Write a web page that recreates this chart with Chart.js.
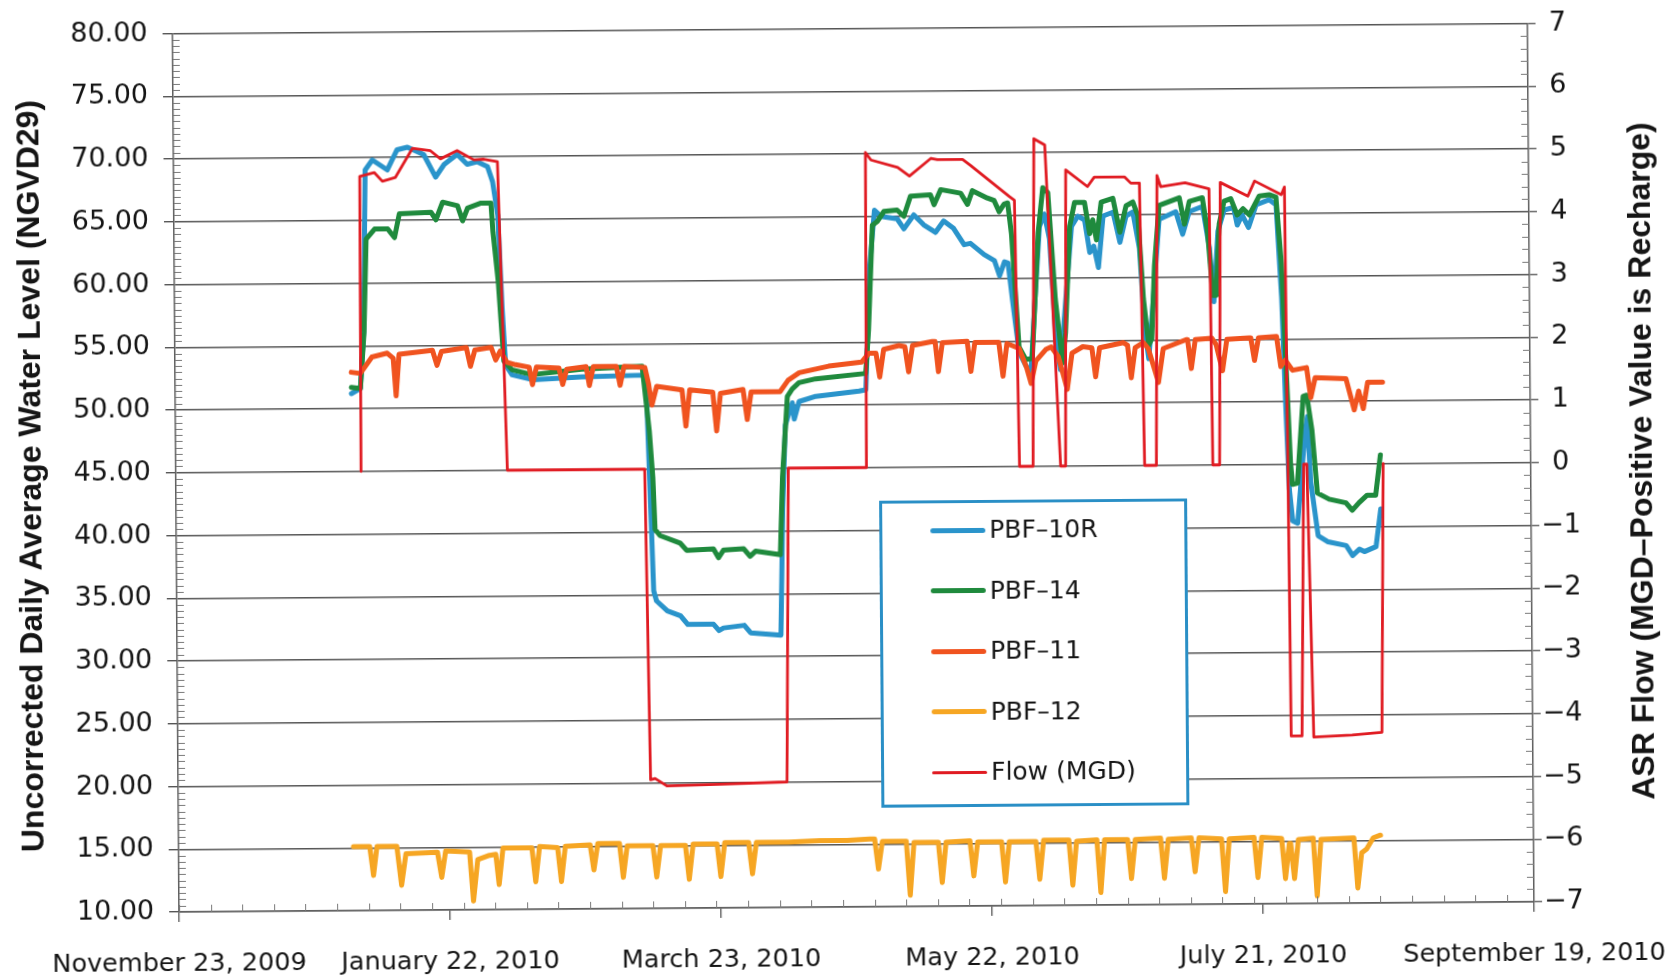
<!DOCTYPE html>
<html lang="en">
<head>
<meta charset="utf-8">
<title>PBF water levels and ASR flow</title>
<script src="https://cdn.jsdelivr.net/npm/chart.js@4.4.1/dist/chart.umd.min.js"></script>
<style>
    html, body { margin: 0; padding: 0; background: #fff; overflow: hidden; }
    #quadro { position: relative; width: 1676px; height: 977px; transform: rotate(-0.43deg); transform-origin: 838px 488px; }
    #grafico { position: absolute; left: 0; top: 0; }
    .titulo-eixo { position: absolute; white-space: nowrap; font-family: 'Liberation Sans', Arial, sans-serif; font-weight: bold; font-size: 32px; line-height: 38px; color: #151515; transform: translate(-50%, -50%) rotate(-90deg); }
    .legenda { position: absolute; left: 879px; top: 501px; width: 308px; height: 307px; box-sizing: border-box; border: 3px solid #2a8fc6; background: #fff; }
    .item-legenda { position: absolute; left: 0; width: 100%; height: 30px; }
    .amostra { position: absolute; left: 48px; width: 55px; border-radius: 3px; }
    .rotulo { position: absolute; left: 107px; top: 0; line-height: 30px; font-family: 'DejaVu Sans', sans-serif; font-size: 25px; color: #151515; white-space: nowrap; }
</style>
</head>
<body>
<div id="quadro">
    <canvas id="grafico" width="1676" height="977"></canvas>
    <div class="titulo-eixo" style="left: 30px; top: 470px;">Uncorrected Daily Average Water Level (NGVD29)</div>
    <div class="titulo-eixo" style="left: 1641px; top: 467px;">ASR Flow (MGD–Positive Value is Recharge)</div>
    <div class="legenda" id="legenda"></div>
</div>
<script>
// dias contados a partir de 23/11/2009
const diasRotulos = [0, 60, 120, 180, 240, 300];
const rotulosDatas = ['November 23, 2009', 'January 22, 2010', 'March 23, 2010', 'May 22, 2010', 'July 21, 2010', 'September 19, 2010'];

const nomesSeries = ['PBF–10R', 'PBF–14', 'PBF–11', 'PBF–12', 'Flow (MGD)'];
const coresSeries = ['#2a94cb', '#1f8a3d', '#f0531f', '#f6a623', '#e01b22'];

const pbf10r = [
    [39, 51.2], [41, 51.6], [41.8, 56.0], [42.4, 69.0], [44, 69.8], [47.3, 69.0], [49.5, 70.6], [51.8, 70.8],
    [55.4, 70.2], [58, 68.4], [59.9, 69.4], [62.8, 70.2], [65, 69.4], [67.2, 69.6], [69.5, 69.2], [70.6, 68.0],
    [71.7, 65.3], [72.5, 58.0], [73.2, 53.4], [74.6, 52.6], [79.1, 52.2], [90, 52.4], [104.2, 52.5], [104.9, 44.0],
    [105.6, 35.3], [106.2, 34.5], [108.6, 33.7], [111.5, 33.3], [113.1, 32.6], [118.8, 32.6], [120, 32.1], [121, 32.3],
    [125.6, 32.5], [127, 31.9], [133.7, 31.7], [134.3, 41.7], [135, 48.4], [136.6, 50.2], [137, 48.9], [138.1, 50.3],
    [141.8, 50.7], [151.4, 51.1], [152.9, 51.2], [154, 61.2], [155.1, 65.5], [156.6, 65.0], [160.1, 64.8], [161.6, 64.0],
    [163.8, 65.1], [166, 64.3], [168.6, 63.7], [170.4, 64.6], [172.6, 64.0], [174.9, 62.7], [176.3, 62.8], [179.3, 61.9],
    [181.6, 61.4], [182.7, 60.2], [183.8, 61.3], [184.6, 61.2], [185.5, 58.3], [186.9, 54.1], [188.4, 53.0], [189.5, 52.5],
    [190.5, 58.3], [191.6, 64.1], [192.7, 65.1], [193.8, 63.1], [195, 55.6], [196, 52.7], [197.2, 57.8], [198.7, 64.1],
    [200.1, 64.9], [201.6, 64.6], [202.7, 62.0], [203.6, 62.5], [204.6, 60.8], [205.7, 64.9], [207.9, 65.2], [209.4, 62.8],
    [210.8, 64.9], [212.3, 65.2], [213.7, 62.3], [214.8, 55.6], [215.6, 53.5], [216.7, 58.3], [218.1, 64.6], [221.8, 65.2],
    [223.3, 63.4], [224.8, 65.2], [227.7, 65.6], [229.2, 62.3], [230.1, 58.0], [231.1, 63.6], [232.5, 65.3], [234.6, 65.5],
    [235.4, 64.1], [236.5, 64.9], [237.9, 63.9], [239.6, 65.7], [242.5, 66.1], [244, 65.7], [245.1, 58.3], [245.8, 50.0],
    [246.5, 43.0], [247.2, 40.5], [248.3, 40.3], [250.1, 47.7], [250.6, 48.8], [251.2, 43.7], [252.8, 39.3], [255, 38.8],
    [259, 38.5], [260.4, 37.7], [261.9, 38.2], [263, 38.0], [265.6, 38.4], [266.7, 41.4]
];

const pbf14 = [
    [39, 51.7], [41, 51.6], [41.9, 56.1], [42.5, 63.5], [44.4, 64.3], [47.3, 64.3], [48.8, 63.6], [49.9, 65.5],
    [56.9, 65.6], [58, 65.0], [59.5, 66.4], [62.8, 66.1], [63.9, 64.9], [65, 65.9], [68, 66.3], [70.2, 66.3],
    [70.6, 64.0], [71.7, 60.0], [72.8, 53.7], [74.6, 53.0], [79, 52.6], [90, 53.0], [103.4, 53.2], [104.9, 48.0],
    [105.6, 44.3], [106, 40.2], [107.1, 39.7], [111.5, 39.1], [113, 38.5], [118.9, 38.6], [120, 37.9], [121.1, 38.5],
    [125.6, 38.6], [127, 38.0], [128.2, 38.4], [133.7, 38.1], [134.3, 44.3], [135.5, 50.7], [136.6, 51.3], [138.1, 51.8],
    [141.8, 52.1], [152.9, 52.5], [153.6, 56.0], [154.6, 64.3], [155.7, 64.6], [157.2, 65.4], [160.1, 65.5], [161.6, 65.0],
    [163.1, 66.6], [167.5, 66.7], [168.3, 65.9], [169.8, 67.1], [174.2, 66.8], [175.7, 65.9], [176.8, 67.0], [180.1, 66.4],
    [181.6, 66.2], [182.7, 65.3], [183.8, 65.9], [184.6, 66.0], [185.4, 63.5], [186.9, 54.5], [188.4, 53.5], [189.8, 53.6],
    [191.3, 63.6], [192.4, 67.2], [193.5, 66.8], [195, 58.3], [196.5, 53.2], [197.2, 55.6], [198.3, 64.1], [199.4, 66.0],
    [201.6, 66.0], [202.7, 63.5], [203.4, 64.6], [204.2, 63.0], [205.3, 66.0], [207.9, 66.3], [209.4, 63.6], [210.8, 65.7],
    [212.3, 66.0], [213.4, 64.9], [214.5, 58.3], [215.6, 54.6], [216.3, 55.1], [217, 60.9], [218.1, 65.7], [222.6, 66.3],
    [223.7, 64.2], [224.8, 66.0], [227.7, 66.3], [228.8, 63.6], [229.9, 58.5], [230.6, 58.5], [231.4, 64.2], [232.5, 66.0],
    [234, 66.2], [235.4, 64.9], [236.7, 65.4], [238.1, 64.9], [240.3, 66.4], [242.5, 66.5], [244, 66.3], [245.1, 61.0],
    [245.8, 54.5], [246.8, 45.1], [247.2, 43.4], [248.3, 43.5], [249.7, 50.4], [250.5, 50.5], [251.6, 47.7], [252.7, 42.7],
    [255.3, 42.2], [259, 41.9], [260.4, 41.3], [261.9, 41.9], [263.7, 42.5], [265.6, 42.5], [266.7, 45.7]
];

const pbf11 = [
    [39, 52.9], [41, 52.8], [43.6, 54.1], [47, 54.4], [48.3, 54.0], [48.9, 51.0], [49.6, 54.3], [57, 54.6],
    [58, 53.4], [59, 54.5], [64.5, 54.8], [65.4, 53.3], [66.4, 54.6], [70, 54.8], [71, 53.8], [72, 54.5],
    [73.5, 53.6], [75.4, 53.4], [78.4, 53.2], [79.1, 51.8], [80, 53.2], [85, 53.1], [85.8, 51.8], [86.7, 53.0],
    [91, 53.2], [91.7, 51.7], [92.6, 53.2], [97.7, 53.2], [98.5, 51.7], [99.4, 53.2], [104, 53.1], [104.8, 51.8],
    [105.5, 50.1], [106.6, 51.6], [112.2, 51.3], [113, 48.4], [113.9, 51.3], [119, 51.1], [119.8, 48.0], [120.7, 51.0],
    [125.7, 51.3], [126.6, 48.9], [127.5, 51.1], [133.9, 51.1], [135.7, 52.0], [138.2, 52.6], [144.7, 53.1], [152, 53.4],
    [153.6, 54.1], [155.2, 54.1], [156, 52.2], [156.9, 54.4], [160.3, 54.7], [161.6, 54.6], [162.4, 52.6], [163.3, 54.7],
    [167.7, 55.0], [168.3, 55.0], [169, 52.6], [169.9, 54.9], [175.4, 55.0], [176.2, 52.6], [177.1, 54.9], [182.4, 54.9],
    [183.3, 52.2], [184.2, 54.8], [186.9, 54.4], [188.5, 52.9], [189.5, 51.6], [190.6, 53.4], [192.8, 54.3], [194, 54.5],
    [195.6, 53.7], [197.5, 51.1], [198.6, 54.0], [201, 54.5], [203, 54.4], [203.8, 52.1], [204.7, 54.4], [210, 54.8],
    [210.9, 54.6], [211.7, 52.0], [212.6, 54.4], [214.4, 54.8], [215.5, 54.3], [217.7, 51.6], [218.8, 54.3], [223.9, 55.0],
    [224.2, 55.0], [225, 52.7], [225.9, 55.0], [229.6, 55.1], [230.5, 54.6], [231.9, 52.5], [232.9, 55.0], [237.8, 55.1],
    [238.2, 55.1], [239, 53.3], [239.9, 55.1], [243.9, 55.2], [244.8, 52.8], [245.8, 53.3], [247.4, 52.5], [250.5, 52.7],
    [251.4, 50.3], [252.4, 51.9], [259.2, 51.8], [261, 49.3], [262, 50.8], [263, 49.4], [264, 51.5], [267.3, 51.5]
];

const pbf12 = [
    [38.7, 15.1], [42.3, 15.1], [43.1, 12.8], [43.9, 15.1], [48.3, 15.1], [49.3, 12.0], [50.3, 14.5], [57.3, 14.6],
    [58.2, 12.6], [59.1, 14.7], [64.4, 14.6], [65.2, 10.7], [66.2, 14.0], [68.5, 14.3], [70.2, 14.4], [70.9, 12.0],
    [71.8, 14.9], [78.2, 14.9], [79, 12.2], [79.9, 15.0], [83.9, 14.9], [84.7, 12.2], [85.6, 15.0], [91.1, 15.1],
    [91.9, 13.1], [92.8, 15.2], [97.6, 15.2], [98.4, 12.5], [99.3, 15.0], [105, 15.0], [105.8, 12.5], [106.7, 15.0],
    [112.2, 15.0], [113, 12.3], [113.9, 15.1], [119.2, 15.1], [120, 12.5], [120.9, 15.2], [126.2, 15.2], [127, 12.7],
    [127.9, 15.2], [135, 15.2], [142, 15.3], [148, 15.3], [153, 15.4], [154.1, 15.4], [154.9, 13.0], [155.8, 15.2],
    [161.1, 15.2], [161.9, 10.9], [162.8, 15.1], [168.2, 15.1], [169, 11.9], [169.9, 15.1], [175.2, 15.2], [176, 12.4],
    [176.9, 15.1], [182.2, 15.1], [183, 11.9], [183.9, 15.1], [189.8, 15.1], [190.6, 12.1], [191.5, 15.2], [197.1, 15.2],
    [197.9, 11.6], [198.8, 15.1], [203.3, 15.2], [204.1, 11.0], [205, 15.2], [210.1, 15.2], [210.9, 12.1], [211.8, 15.2],
    [217.4, 15.3], [218.2, 12.1], [219.1, 15.2], [224.2, 15.3], [225, 12.6], [225.9, 15.3], [230.9, 15.2], [231.7, 11.0],
    [232.6, 15.2], [238.1, 15.3], [238.9, 12.1], [239.8, 15.3], [244.2, 15.2], [245, 12.0], [245.9, 14.8], [246.2, 14.8],
    [247, 12.0], [247.9, 15.1], [251.2, 15.2], [252, 10.6], [252.9, 15.1], [260.2, 15.2], [261, 11.2], [261.9, 14.0],
    [263, 14.3], [264.5, 15.2], [266.1, 15.4]
];

// vazão em MGD, eixo da direita
const vazao = [
    [41, 0], [41.2, 4.7], [44.4, 4.76], [46.2, 4.62], [49.1, 4.68], [52.9, 5.14], [56.9, 5.10], [59.1, 4.97],
    [62.8, 5.10], [66.5, 4.95], [68.7, 4.96], [71.7, 4.92], [73.4, 0], [103.8, 0], [104.6, -4.95], [105.6, -4.93],
    [108.2, -5.05], [120, -5.03], [134.8, -5.0], [135.6, 0], [152.9, 0], [153.2, 5.02], [154.4, 4.9], [160.3, 4.78],
    [162.9, 4.64], [167.7, 4.92], [169.1, 4.9], [174.7, 4.9], [176.5, 4.8], [185, 4.3], [186.1, 4.24], [186.8, 0],
    [189.8, 0], [190.5, 5.22], [192.9, 5.12], [195.9, 0], [197, 0], [197.5, 4.72], [202.3, 4.45], [203.8, 4.6],
    [210.5, 4.6], [211.9, 4.5], [213.8, 4.5], [214.5, 0], [217.1, 0], [217.7, 4.62], [218.5, 4.44], [223.9, 4.5],
    [229.2, 4.4], [229.6, 0], [231.1, 0], [231.7, 4.5], [237.8, 4.28], [239.3, 4.52], [245.2, 4.3], [245.9, 4.42],
    [246.5, -4.33], [248.9, -4.33], [249.7, 0], [250.4, 0], [251.5, -4.35], [260, -4.32], [266.6, -4.28], [267.3, 0]
];

function criarSerie(indice, pontos, espessura, eixo, ordem) {
    return {
        label: nomesSeries[indice],
        data: pontos.map(([x, y]) => ({ x, y })),
        borderColor: coresSeries[indice],
        backgroundColor: coresSeries[indice],
        borderWidth: espessura,
        yAxisID: eixo,
        order: ordem,
        pointRadius: 0,
        tension: 0,
        fill: false,
        borderJoinStyle: 'round',
        borderCapStyle: 'round'
    };
}

function montarLegenda() {
    const espessuras = [5, 5, 5, 5, 3];
    document.getElementById('legenda').innerHTML = nomesSeries.map((nome, indice) => `
        <div class="item-legenda" style="top: ${12 + indice * 60.6}px;">
            <span class="amostra" style="top: ${15 - espessuras[indice] / 2}px; height: ${espessuras[indice]}px; background: ${coresSeries[indice]};"></span>
            <span class="rotulo">${nome}</span>
        </div>
    `).join('');
}

// sem o recuo automático dos rótulos, a área do gráfico fica onde queremos
function fixarLargura(largura) {
    return escala => {
        escala.width = largura;
        escala.paddingTop = 0;
        escala.paddingBottom = 0;
    };
}

const marcasMenores = {
    id: 'marcasMenores',
    afterDraw(chart) {
        const { ctx, chartArea: area, scales } = chart;
        ctx.save();
        ctx.strokeStyle = '#7a7a7a';
        ctx.lineWidth = 1;
        ctx.beginPath();
        for (let dia = 0; dia <= 300; dia += 7) {
            const px = Math.round(scales.x.getPixelForValue(dia)) + 0.5;
            ctx.moveTo(px, area.bottom);
            ctx.lineTo(px, area.bottom - 7);
        }
        for (let i = 1; i < 140; i++) {
            if (i % 10 === 0) continue;
            const py = Math.round(scales.y.getPixelForValue(10 + i * 0.5)) + 0.5;
            ctx.moveTo(area.left, py);
            ctx.lineTo(area.left + 7, py);
        }
        for (let i = 1; i < 70; i++) {
            if (i % 5 === 0) continue;
            const py = Math.round(scales.y1.getPixelForValue(-7 + i * 0.2)) + 0.5;
            ctx.moveTo(area.right, py);
            ctx.lineTo(area.right - 7, py);
        }
        ctx.stroke();
        ctx.restore();
    }
};

const fonteTicks = { family: 'DejaVu Sans', size: 27 };
const corEixo = '#5f5f5f';

new Chart(document.getElementById('grafico'), {
    type: 'line',
    data: {
        datasets: [
            criarSerie(0, pbf10r, 5, 'y', 3),
            criarSerie(1, pbf14, 5, 'y', 2),
            criarSerie(2, pbf11, 5, 'y', 1),
            criarSerie(3, pbf12, 5, 'y', 4),
            criarSerie(4, vazao, 2.8, 'y1', 0)
        ]
    },
    options: {
        responsive: false,
        animation: false,
        devicePixelRatio: 1,
        layout: { padding: { top: 28.5, right: 0, bottom: 0, left: 0 } },
        plugins: { legend: { display: false }, tooltip: { enabled: false } },
        scales: {
            x: {
                type: 'linear',
                min: 0,
                max: 300,
                afterFit: escala => {
                    escala.height = 70;
                    escala.paddingLeft = 0;
                    escala.paddingRight = 0;
                },
                ticks: {
                    stepSize: 60,
                    autoSkip: false,
                    maxRotation: 0,
                    padding: 27,
                    color: '#151515',
                    font: { family: 'DejaVu Sans', size: 25.5 },
                    callback: valor => rotulosDatas[diasRotulos.indexOf(valor)] ?? ''
                },
                grid: { drawOnChartArea: false, drawTicks: true, tickLength: 10, color: corEixo, lineWidth: 1.4 },
                border: { color: corEixo, width: 1.5 }
            },
            y: {
                position: 'left',
                min: 10,
                max: 80,
                afterFit: fixarLargura(176),
                ticks: {
                    stepSize: 5,
                    padding: 15,
                    color: '#151515',
                    font: fonteTicks,
                    callback: valor => valor.toFixed(2)
                },
                grid: { color: '#555', lineWidth: 1.4, drawTicks: true, tickLength: 10 },
                border: { color: corEixo, width: 1.5 }
            },
            y1: {
                position: 'right',
                min: -7,
                max: 7,
                afterFit: fixarLargura(145),
                ticks: {
                    stepSize: 1,
                    padding: 2,
                    crossAlign: 'center',
                    color: '#151515',
                    font: fonteTicks,
                    callback: valor => valor < 0 ? '\u2212' + Math.abs(valor) : String(valor)
                },
                grid: { drawOnChartArea: false, drawTicks: true, tickLength: 8, color: corEixo, lineWidth: 1.4 },
                border: { color: corEixo, width: 1.5 }
            }
        }
    },
    plugins: [marcasMenores]
});

montarLegenda();
</script>
</body>
</html>
